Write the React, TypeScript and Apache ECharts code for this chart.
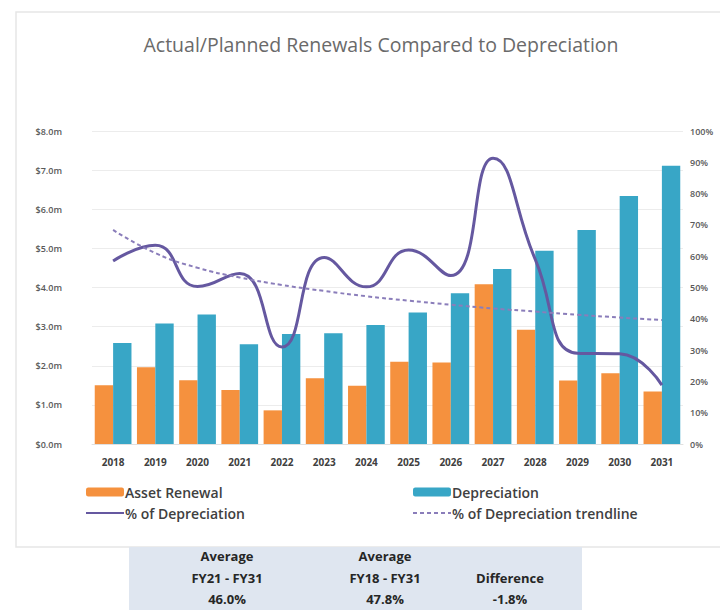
import React, { useEffect, useRef } from "react";
import * as echarts from "echarts";

const years = ["2018","2019","2020","2021","2022","2023","2024","2025","2026","2027","2028","2029","2030","2031"];
const assetRenewal = [1.50, 1.96, 1.63, 1.38, 0.86, 1.68, 1.49, 2.10, 2.08, 4.08, 2.92, 1.62, 1.81, 1.34];
const depreciation = [2.58, 3.08, 3.31, 2.55, 2.81, 2.83, 3.04, 3.36, 3.85, 4.47, 4.94, 5.47, 6.34, 7.11];
const pctOfDepreciation = [58.5, 63.5, 50.3, 54.5, 31.0, 59.6, 50.2, 62.0, 53.8, 91.3, 59.0, 29.0, 28.8, 18.8];
const pctTrendline = [68.4, 61.0, 56.3, 53.2, 50.8, 48.9, 47.2, 45.8, 44.5, 43.3, 42.3, 41.3, 40.4, 39.6];
const leftTicks = { min: 0, max: 8, interval: 1 };
const rightTicks = { min: 0, max: 100, interval: 10 };
const tableCols = [
  ["Average", "FY21 - FY31", "46.0%"],
  ["Average", "FY18 - FY31", "47.8%"],
  ["", "Difference", "-1.8%"],
];

const TFONT = "'Open Sans', Lato, sans-serif";

export default function App() {
  const ref = useRef<HTMLDivElement>(null);
  useEffect(() => {
    const chart = echarts.init(ref.current!, null, { renderer: "svg" });
    const colX = [227, 385, 510];
    const rowY = [556, 578, 599];
    const tableTexts: any[] = [];
    tableCols.forEach((col, ci) => {
      col.forEach((t, ri) => {
        if (!t) return;
        tableTexts.push({
          type: "text",
          x: colX[ci],
          y: rowY[ri],
          style: { text: t, fill: "#262626", font: `bold 13px ${TFONT}`, textAlign: "center", textVerticalAlign: "middle" },
        });
      });
    });
    const legendText = { color: "#404040", fontSize: 14, fontWeight: 600, fontFamily: TFONT, padding: [0, 0, 0, -4] };
    chart.setOption({
      animation: false,
      backgroundColor: "#ffffff",
      title: {
        text: "Actual/Planned Renewals Compared to Depreciation",
        left: 376,
        textAlign: "center",
        top: 29,
        textStyle: { color: "#6a6a6a", fontSize: 19.5, fontWeight: "normal", fontFamily: TFONT },
      },
      grid: { left: 92, right: 37, top: 131, bottom: 166 },
      legend: [
        {
          data: [
            { name: "Asset Renewal" },
            { name: "% of Depreciation", itemStyle: { opacity: 0 } },
          ],
          orient: "vertical",
          left: 80,
          top: 480,
          itemWidth: 38,
          itemHeight: 9,
          itemGap: 7,
          textStyle: legendText,
        },
        {
          data: [
            { name: "Depreciation" },
            { name: "% of Depreciation trendline", itemStyle: { opacity: 0 } },
          ],
          orient: "vertical",
          left: 407,
          top: 480,
          itemWidth: 38,
          itemHeight: 9,
          itemGap: 7,
          textStyle: legendText,
        },
      ],
      xAxis: {
        type: "category",
        data: years,
        axisTick: { show: false },
        axisLine: { show: true, lineStyle: { color: "#e0e0e0" } },
        axisLabel: { color: "#404040", fontSize: 10, fontWeight: "bold", fontFamily: TFONT, margin: 13 },
      },
      yAxis: [
        {
          type: "value",
          ...leftTicks,
          axisLabel: { color: "#595959", fontSize: 9, fontWeight: 600, fontFamily: TFONT, margin: 30, formatter: (v: number) => `$${v.toFixed(1)}m` },
          splitLine: { lineStyle: { color: "#ececec" } },
          axisLine: { show: false },
          axisTick: { show: false },
        },
        {
          type: "value",
          ...rightTicks,
          position: "right",
          axisLabel: { color: "#595959", fontSize: 9, fontWeight: 600, fontFamily: TFONT, margin: 7, formatter: (v: number) => `${v}%` },
          splitLine: { show: false },
          axisLine: { show: false },
          axisTick: { show: false },
        },
      ],
      series: [
        {
          name: "Asset Renewal",
          type: "bar",
          data: assetRenewal,
          barGap: "0%",
          barCategoryGap: "13%",
          itemStyle: { color: "#F5913E" },
        },
        {
          name: "Depreciation",
          type: "bar",
          data: depreciation,
          itemStyle: { color: "#38A6C6" },
        },
        {
          name: "% of Depreciation",
          type: "line",
          yAxisIndex: 1,
          data: pctOfDepreciation,
          smooth: 0.5,
          symbol: "none",
          lineStyle: { color: "#6558A0", width: 3 },
          itemStyle: { color: "#6558A0" },
        },
        {
          name: "% of Depreciation trendline",
          type: "line",
          yAxisIndex: 1,
          data: pctTrendline,
          smooth: true,
          symbol: "none",
          lineStyle: { color: "#8A7DBA", width: 2, type: [4, 3] },
          itemStyle: { color: "#8A7DBA" },
        },
      ],
      graphic: [
        {
          type: "rect",
          shape: { x: 16, y: 12, width: 720, height: 535 },
          style: { fill: "none", stroke: "#e6e6e6", lineWidth: 1.5 },
          silent: true,
        },
        {
          type: "rect",
          shape: { x: 129, y: 547, width: 453, height: 70 },
          style: { fill: "#DFE6F0" },
          silent: true,
        },
        ...tableTexts,
      ],
    });
    return () => chart.dispose();
  }, []);
  return <div ref={ref} style={{ position: "fixed", left: 0, top: 0, width: 720, height: 610 }} />;
}
